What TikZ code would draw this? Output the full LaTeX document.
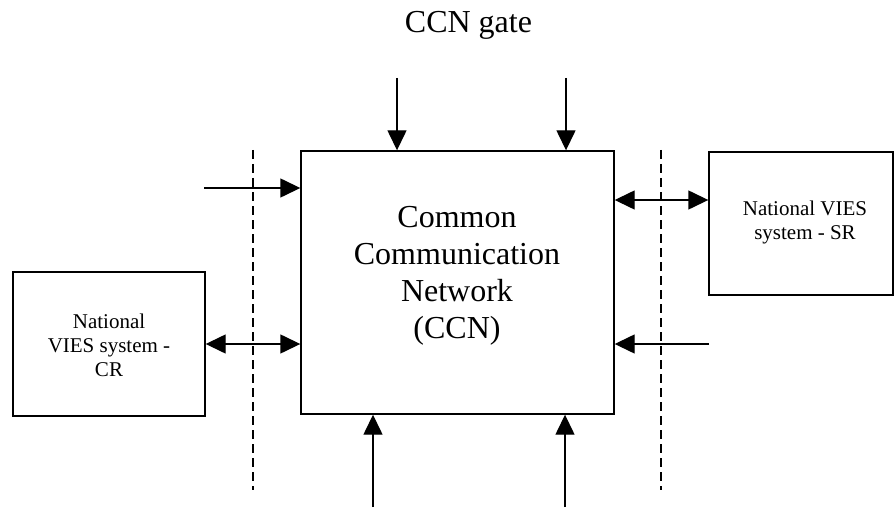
\documentclass[tikz,border=0pt]{standalone}
\usepackage{fontspec}
\setmainfont{Liberation Serif}
\usetikzlibrary{arrows.meta}
\begin{document}
\begin{tikzpicture}[x=1pt,y=1pt,
  boxst/.style={draw,line width=1.4pt,inner sep=0pt},
  conn/.style={line width=1.4pt,-{Triangle[length=20pt,width=19pt]}},
  dconn/.style={line width=1.4pt,{Triangle[length=20pt,width=19pt]}-{Triangle[length=20pt,width=19pt]}},
  sep/.style={line width=1.2pt,dash pattern=on 9pt off 5pt},
  smalltxt/.style={font=\fontsize{21}{24}\selectfont,align=center,inner sep=0pt},
  bigtxt/.style={font=\fontsize{32}{37}\selectfont,align=center,inner sep=0pt}]
\useasboundingbox (0,0) rectangle (894,507);
% boxes
\node[boxst,minimum width=313pt,minimum height=263pt] (ccn) at (457.5,224.5) {};
\node[boxst,minimum width=192pt,minimum height=144pt] (cr) at (109,163) {};
\node[boxst,minimum width=184pt,minimum height=143pt] (sr) at (801,283.5) {};
% texts
\node[bigtxt] (ccnt) at (457,231) {Common\\Communication\\Network\\(CCN)};
\node[smalltxt] (crt) at (109,162) {National\\VIES system -\\CR};
\node[smalltxt] (srt) at (805,285) {National VIES\\system - SR};
\node[font=\fontsize{32}{37}\selectfont,anchor=base,inner sep=0pt] (gate) at (468.5,474) {CCN gate};
% dashed separators
\coordinate (l1) at (253,357);
\coordinate (l2) at (253,17);
\coordinate (r1) at (661,357);
\coordinate (r2) at (661,17);
\draw[sep] (l1) -- (l2);
\draw[sep] (r1) -- (r2);
% free ends
\coordinate (t1) at (397,429);
\coordinate (t2) at (566,429);
\coordinate (b1) at (373,0);
\coordinate (b2) at (565,0);
\coordinate (li) at (204,319);
\coordinate (ri) at (709,163);
% arrows
\draw[conn] (t1) -- (t1 |- ccn.north);
\draw[conn] (t2) -- (t2 |- ccn.north);
\draw[conn] (b1) -- (b1 |- ccn.south);
\draw[conn] (b2) -- (b2 |- ccn.south);
\draw[conn] (li) -- (li -| ccn.west);
\draw[conn] (ri) -- (ri -| ccn.east);
\draw[dconn] (cr.east) -- (cr.east -| ccn.west);
\draw[dconn] (ccn.east |- 0,307) -- (sr.west |- 0,307);
\end{tikzpicture}
\end{document}
